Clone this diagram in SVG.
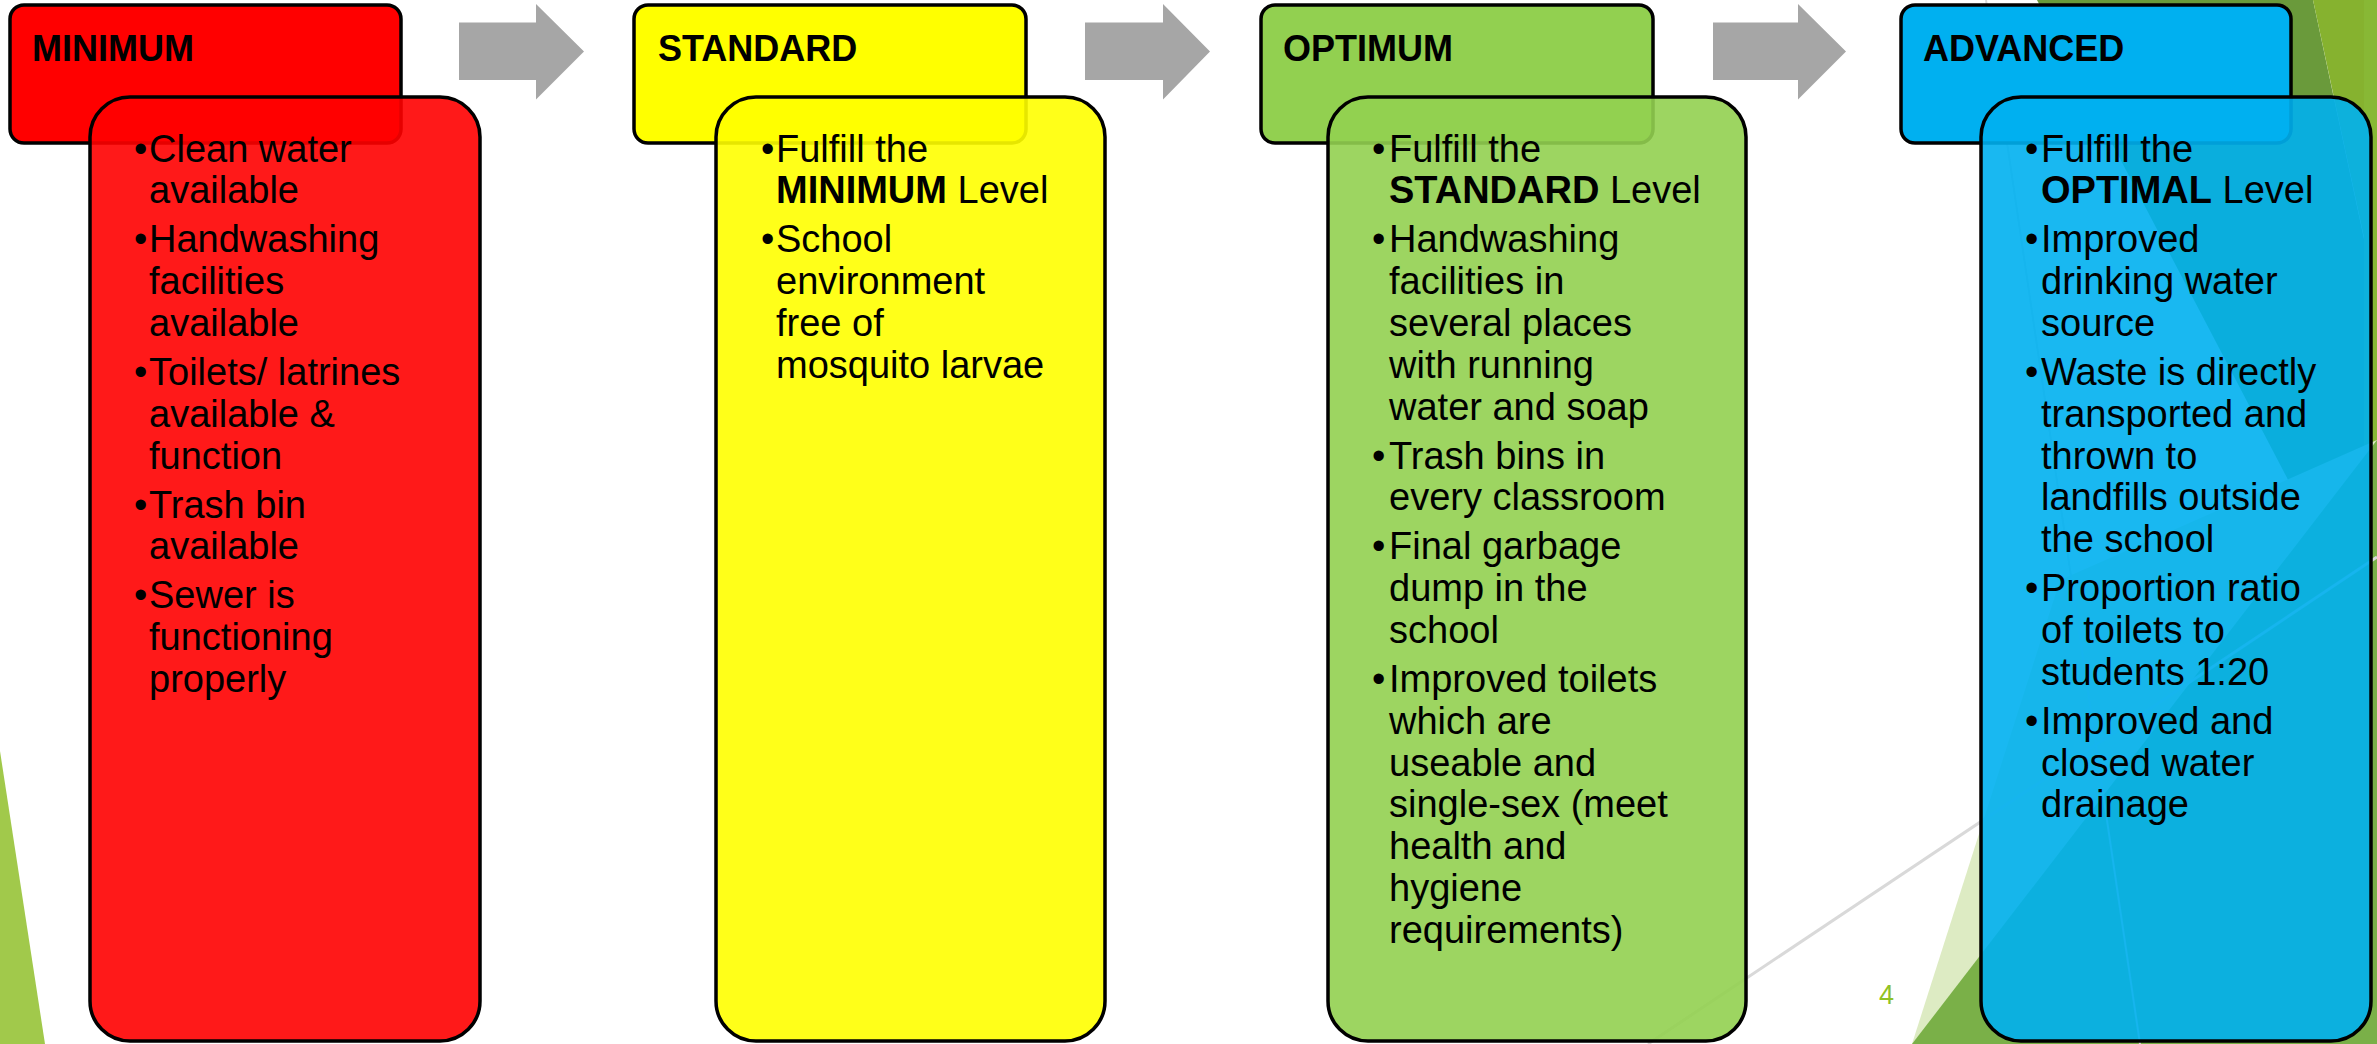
<svg xmlns="http://www.w3.org/2000/svg" width="2377" height="1044" viewBox="0 0 2377 1044">
<style>
.hdr{stroke:#000;stroke-width:3.5}
.body{stroke:#000;stroke-width:3.5;fill-opacity:0.9}
.ht{font-family:"Liberation Sans",Arial,sans-serif;font-weight:bold;font-size:36px;fill:#000}
.bt{font-family:"Liberation Sans",Arial,sans-serif;font-size:38px;fill:#000}
.b{font-weight:bold}
.arrow{fill:#A6A6A6}
.bgline{stroke:#D9D9D9;fill:none}
</style>
<rect width="2377" height="1044" fill="#FFFFFF"/>
<g id="background">
  <polygon points="0,751 45,1044 0,1044" fill="#A1C94B"/>
  <polygon points="2037,0 2313,0 2377,300 2377,650" fill="#6A9A3B"/>
  <polygon points="2313,0 2377,0 2377,298" fill="#86B22F"/>
  <rect x="2364" y="0" width="13" height="1044" fill="#88B835"/>
  <polygon points="1912,1044 2060,580 2377,440 2377,1044" fill="#DDEBC3"/>
  <polygon points="1912,1044 2377,1044 2377,440" fill="#7AB048"/>
  <line class="bgline" x1="1986" y1="0" x2="2140" y2="1044" stroke-width="2"/>
  <line class="bgline" x1="1648" y1="1044" x2="2377" y2="557" stroke-width="3"/>
  <text x="1879" y="1004" font-family="Liberation Sans, Arial, sans-serif" font-size="27" fill="#90C226">4</text>
</g>
<g id="connectors">
  <polygon class="arrow" points="459,22.5 536,22.5 536,4 584,51.5 536,99.5 536,80 459,80"/>
  <polygon class="arrow" points="1085,22.5 1163,22.5 1163,4 1210,51.5 1163,99.5 1163,80 1085,80"/>
  <polygon class="arrow" points="1713,22.5 1798,22.5 1798,4 1846,51.5 1798,99.5 1798,80 1713,80"/>
</g>
<g id="minimum-header">
  <rect class="hdr" x="10" y="5" width="391" height="138" rx="14" fill="#FF0000"/>
  <text class="ht" x="32" y="61">MINIMUM</text>
</g>
<g id="standard-header">
  <rect class="hdr" x="634" y="5" width="392" height="138" rx="14" fill="#FFFF00"/>
  <text class="ht" x="658" y="61">STANDARD</text>
</g>
<g id="optimum-header">
  <rect class="hdr" x="1261" y="5" width="392" height="138" rx="14" fill="#92D050"/>
  <text class="ht" x="1283" y="61">OPTIMUM</text>
</g>
<g id="advanced-header">
  <rect class="hdr" x="1901" y="5" width="390" height="138" rx="14" fill="#00B0F0"/>
  <text class="ht" x="1923" y="61">ADVANCED</text>
</g>
<g id="minimum-body">
  <rect class="body" x="90" y="97" width="390" height="944" rx="40" fill="#FF0000"/>
  <g class="bt">
    <text x="134" y="161.5">•</text><text x="149" y="161.5">Clean water</text>
    <text x="149" y="203.3">available</text>
    <text x="134" y="252.3">•</text><text x="149" y="252.3">Handwashing</text>
    <text x="149" y="294.1">facilities</text>
    <text x="149" y="335.9">available</text>
    <text x="134" y="384.9">•</text><text x="149" y="384.9">Toilets/ latrines</text>
    <text x="149" y="426.7">available &amp;</text>
    <text x="149" y="468.5">function</text>
    <text x="134" y="517.5">•</text><text x="149" y="517.5">Trash bin</text>
    <text x="149" y="559.3">available</text>
    <text x="134" y="608.3">•</text><text x="149" y="608.3">Sewer is</text>
    <text x="149" y="650.1">functioning</text>
    <text x="149" y="691.9">properly</text>
  </g>
</g>
<g id="standard-body">
  <rect class="body" x="716" y="97" width="389" height="944" rx="40" fill="#FFFF00"/>
  <g class="bt">
    <text x="761" y="161.5">•</text><text x="776" y="161.5">Fulfill the</text>
    <text x="776" y="203.3"><tspan class="b">MINIMUM</tspan> Level</text>
    <text x="761" y="252.3">•</text><text x="776" y="252.3">School</text>
    <text x="776" y="294.1">environment</text>
    <text x="776" y="335.9">free of</text>
    <text x="776" y="377.7">mosquito larvae</text>
  </g>
</g>
<g id="optimum-body">
  <rect class="body" x="1328" y="97" width="418" height="944" rx="40" fill="#92D050"/>
  <g class="bt">
    <text x="1372" y="161.5">•</text><text x="1389" y="161.5">Fulfill the</text>
    <text x="1389" y="203.3"><tspan class="b">STANDARD</tspan> Level</text>
    <text x="1372" y="252.3">•</text><text x="1389" y="252.3">Handwashing</text>
    <text x="1389" y="294.1">facilities in</text>
    <text x="1389" y="335.9">several places</text>
    <text x="1389" y="377.7">with running</text>
    <text x="1389" y="419.5">water and soap</text>
    <text x="1372" y="468.5">•</text><text x="1389" y="468.5">Trash bins in</text>
    <text x="1389" y="510.3">every classroom</text>
    <text x="1372" y="559.3">•</text><text x="1389" y="559.3">Final garbage</text>
    <text x="1389" y="601.1">dump in the</text>
    <text x="1389" y="642.9">school</text>
    <text x="1372" y="691.9">•</text><text x="1389" y="691.9">Improved toilets</text>
    <text x="1389" y="733.7">which are</text>
    <text x="1389" y="775.5">useable and</text>
    <text x="1389" y="817.3">single-sex (meet</text>
    <text x="1389" y="859.1">health and</text>
    <text x="1389" y="900.9">hygiene</text>
    <text x="1389" y="942.7">requirements)</text>
  </g>
</g>
<g id="advanced-body">
  <rect class="body" x="1981" y="97" width="390" height="944" rx="40" fill="#00B0F0"/>
  <g class="bt">
    <text x="2025" y="161.5">•</text><text x="2041" y="161.5">Fulfill the</text>
    <text x="2041" y="203.3"><tspan class="b">OPTIMAL</tspan> Level</text>
    <text x="2025" y="252.3">•</text><text x="2041" y="252.3">Improved</text>
    <text x="2041" y="294.1">drinking water</text>
    <text x="2041" y="335.9">source</text>
    <text x="2025" y="384.9">•</text><text x="2041" y="384.9">Waste is directly</text>
    <text x="2041" y="426.7">transported and</text>
    <text x="2041" y="468.5">thrown to</text>
    <text x="2041" y="510.3">landfills outside</text>
    <text x="2041" y="552.1">the school</text>
    <text x="2025" y="601.1">•</text><text x="2041" y="601.1">Proportion ratio</text>
    <text x="2041" y="642.9">of toilets to</text>
    <text x="2041" y="684.7">students 1:20</text>
    <text x="2025" y="733.7">•</text><text x="2041" y="733.7">Improved and</text>
    <text x="2041" y="775.5">closed water</text>
    <text x="2041" y="817.3">drainage</text>
  </g>
</g>
</svg>
